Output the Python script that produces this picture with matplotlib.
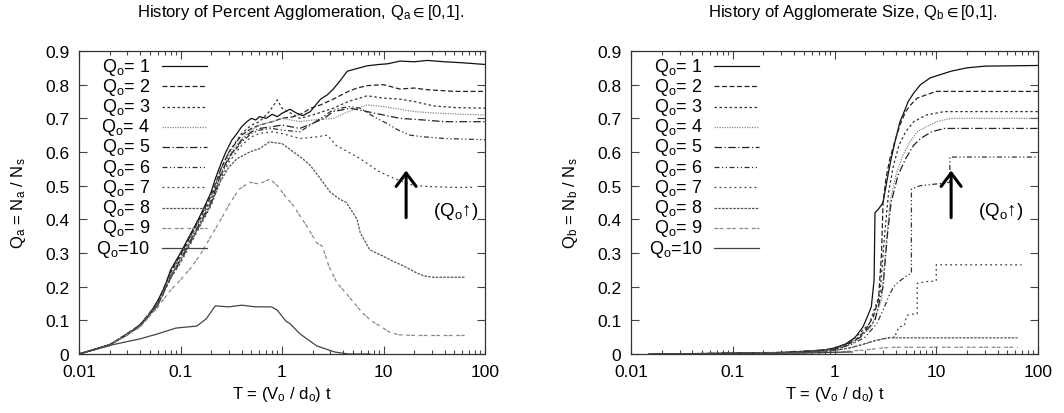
import numpy as np
import matplotlib.pyplot as plt
from matplotlib.ticker import FuncFormatter, MultipleLocator, LogLocator, NullFormatter

plt.rcParams['font.family'] = ['Liberation Sans', 'DejaVu Sans']
plt.rcParams['mathtext.fontset'] = 'custom'
plt.rcParams['mathtext.rm'] = 'Liberation Sans'
plt.rcParams['mathtext.it'] = 'Liberation Sans'
plt.rcParams['mathtext.sf'] = 'Liberation Sans'
plt.rcParams['mathtext.fallback'] = 'stix'
plt.rcParams['mathtext.default'] = 'regular'

labels = ['Q$_o$= 1', 'Q$_o$= 2', 'Q$_o$= 3', 'Q$_o$= 4', 'Q$_o$= 5',
          'Q$_o$= 6', 'Q$_o$= 7', 'Q$_o$= 8', 'Q$_o$= 9', 'Q$_o$=10']
xticks = [0.01, 0.1, 1, 10, 100]

# ---- left panel: percent agglomeration Qa ----
a1_t = [0.01, 0.02, 0.03, 0.04, 0.05, 0.06, 0.07, 0.08, 0.1, 0.12, 0.15, 0.18, 0.2, 0.22, 0.25, 0.28,
        0.32, 0.36, 0.4, 0.45, 0.5, 0.55, 0.6, 0.7, 0.8, 0.9, 1.0, 1.2, 1.4, 1.6, 1.9, 2.4, 2.8, 3.2,
        3.7, 4.4, 5.5, 6.9, 9, 11, 14.5, 20, 27, 40, 60, 100]
a1_q = [0, 0.028, 0.057, 0.088, 0.12, 0.16, 0.2, 0.25, 0.3, 0.345, 0.4, 0.45, 0.48, 0.52, 0.565, 0.60,
        0.635, 0.655, 0.675, 0.69, 0.70, 0.695, 0.705, 0.70, 0.712, 0.705, 0.715, 0.727, 0.715, 0.708, 0.72,
        0.757, 0.77, 0.787, 0.81, 0.84, 0.848, 0.856, 0.86, 0.862, 0.87, 0.868, 0.872, 0.868, 0.865, 0.86]

a2_t = [0.01, 0.02, 0.04, 0.06, 0.08, 0.1, 0.15, 0.2, 0.25, 0.3, 0.4, 0.5, 0.6, 0.8, 1.0, 1.3, 1.6,
        1.9, 2.4, 3.2, 4.5, 5.5, 6.9, 10, 14.5, 20, 27, 50, 100]
a2_q = [0, 0.027, 0.086, 0.155, 0.245, 0.295, 0.395, 0.47, 0.55, 0.6, 0.65, 0.67, 0.68, 0.69, 0.70,
        0.705, 0.715, 0.73, 0.74, 0.757, 0.78, 0.79, 0.797, 0.80, 0.787, 0.79, 0.785, 0.78, 0.78]

a3_t = [0.01, 0.02, 0.04, 0.06, 0.08, 0.1, 0.15, 0.2, 0.25, 0.3, 0.4, 0.5, 0.6, 0.75, 0.9, 1.0, 1.15,
        1.5, 2.0, 3.2, 4.5, 6.9, 10, 14.5, 20, 31, 50, 100]
a3_q = [0, 0.027, 0.085, 0.15, 0.24, 0.29, 0.39, 0.46, 0.55, 0.6, 0.655, 0.68, 0.69, 0.72, 0.755, 0.73,
        0.72, 0.70, 0.71, 0.73, 0.75, 0.767, 0.76, 0.757, 0.75, 0.737, 0.732, 0.73]

a4_t = [0.01, 0.02, 0.04, 0.06, 0.08, 0.1, 0.15, 0.2, 0.25, 0.3, 0.4, 0.5, 0.6, 0.8, 1.0, 1.5, 2.0,
        3.2, 4.5, 6.9, 10, 14.5, 20, 31, 60, 100]
a4_q = [0, 0.026, 0.084, 0.15, 0.235, 0.285, 0.385, 0.455, 0.54, 0.59, 0.64, 0.665, 0.68, 0.69, 0.70,
        0.69, 0.695, 0.70, 0.72, 0.74, 0.735, 0.727, 0.72, 0.716, 0.712, 0.71]

a5_t = [0.01, 0.02, 0.04, 0.06, 0.08, 0.1, 0.15, 0.2, 0.25, 0.3, 0.4, 0.5, 0.6, 0.8, 1.0, 1.5, 2.0,
        2.6, 3.2, 4.7, 6.9, 10, 14.5, 25, 40, 100]
a5_q = [0, 0.026, 0.083, 0.148, 0.23, 0.28, 0.38, 0.45, 0.535, 0.585, 0.635, 0.66, 0.67, 0.675, 0.68,
        0.67, 0.685, 0.70, 0.72, 0.73, 0.72, 0.71, 0.70, 0.695, 0.69, 0.69]

a6_t = [0.01, 0.02, 0.04, 0.06, 0.08, 0.1, 0.15, 0.2, 0.25, 0.3, 0.4, 0.5, 0.6, 0.8, 1.0, 1.5, 1.9,
        2.4, 3.0, 3.7, 4.7, 5.9, 8, 10.8, 14, 18.3, 25, 40, 90, 100]
a6_q = [0, 0.026, 0.082, 0.145, 0.225, 0.275, 0.375, 0.445, 0.53, 0.58, 0.63, 0.655, 0.665, 0.67, 0.665,
        0.66, 0.68, 0.70, 0.72, 0.73, 0.735, 0.73, 0.705, 0.685, 0.665, 0.65, 0.645, 0.64, 0.637, 0.636]

a7_t = [0.01, 0.02, 0.04, 0.06, 0.08, 0.1, 0.15, 0.2, 0.25, 0.3, 0.4, 0.5, 0.6, 0.8, 1.0, 1.5, 2.2,
        2.8, 3.4, 4.5, 5.9, 7.0, 8.7, 11, 14.5, 20, 30, 50, 75]
a7_q = [0, 0.026, 0.082, 0.145, 0.225, 0.27, 0.37, 0.44, 0.52, 0.57, 0.62, 0.645, 0.655, 0.66, 0.655,
        0.64, 0.645, 0.65, 0.62, 0.60, 0.58, 0.565, 0.545, 0.53, 0.515, 0.50, 0.497, 0.495, 0.495]

a8_t = [0.01, 0.02, 0.04, 0.06, 0.08, 0.1, 0.15, 0.2, 0.25, 0.3, 0.36, 0.48, 0.6, 0.75, 1.0, 1.3, 1.6,
        1.9, 2.4, 3.0, 3.7, 4.3, 5.5, 5.9, 7.3, 8.5, 10, 12.5, 15.6, 21.5, 25, 31, 45, 63]
a8_q = [0, 0.027, 0.085, 0.15, 0.23, 0.28, 0.375, 0.445, 0.515, 0.555, 0.58, 0.60, 0.61, 0.63, 0.625,
        0.60, 0.58, 0.56, 0.52, 0.48, 0.46, 0.45, 0.40, 0.36, 0.31, 0.30, 0.29, 0.275, 0.262, 0.24, 0.232,
        0.228, 0.228, 0.228]

a9_t = [0.01, 0.02, 0.04, 0.06, 0.08, 0.1, 0.13, 0.16, 0.2, 0.25, 0.31, 0.38, 0.48, 0.6, 0.76, 0.9,
        1.1, 1.3, 1.75, 2.2, 2.5, 2.9, 3.5, 4.3, 5.2, 6.3, 7.5, 9.2, 11.5, 14, 20, 63]
a9_q = [0, 0.025, 0.08, 0.14, 0.19, 0.22, 0.26, 0.30, 0.35, 0.40, 0.45, 0.49, 0.51, 0.505, 0.52, 0.50,
        0.465, 0.44, 0.38, 0.33, 0.32, 0.26, 0.21, 0.18, 0.15, 0.12, 0.10, 0.083, 0.065, 0.057, 0.055, 0.055]

a10_t = [0.01, 0.021, 0.04, 0.06, 0.09, 0.145, 0.18, 0.22, 0.3, 0.4, 0.55, 0.79, 0.9, 1.09, 1.2,
         1.5, 2.2, 3.3, 4.5, 7.4]
a10_q = [0, 0.027, 0.045, 0.06, 0.077, 0.083, 0.105, 0.143, 0.14, 0.145, 0.14, 0.14, 0.13, 0.098, 0.09,
         0.06, 0.024, 0.006, 0.0, 0.0]

# ---- right panel: agglomerate size Qb ----
b1_t = [0.015, 0.1, 0.3, 0.5, 0.8, 1.0, 1.3, 1.6, 1.9, 2.1, 2.3, 2.45, 2.5, 2.7, 3.0, 3.3, 3.6, 4.0,
        4.4, 4.7, 5.3, 6.0, 7.0, 8.7, 11, 14, 20, 30, 100]
b1_q = [0, 0.002, 0.004, 0.008, 0.012, 0.018, 0.03, 0.05, 0.08, 0.11, 0.14, 0.22, 0.42, 0.43, 0.45,
        0.52, 0.58, 0.64, 0.69, 0.71, 0.75, 0.775, 0.80, 0.82, 0.83, 0.84, 0.85, 0.855, 0.857]

b2_t = [0.02, 0.3, 0.8, 1.2, 1.6, 2.0, 2.4, 2.7, 2.9, 3.0, 3.2, 3.5, 3.9, 4.4, 5.0, 5.6, 6.5, 8, 10, 100]
b2_q = [0, 0.004, 0.012, 0.02, 0.04, 0.07, 0.11, 0.16, 0.30, 0.45, 0.52, 0.58, 0.63, 0.68, 0.72, 0.74,
        0.76, 0.77, 0.78, 0.78]

b3_t = [0.02, 0.4, 1.0, 1.5, 2.2, 2.8, 3.1, 3.4, 3.8, 4.3, 5.0, 6.0, 8, 12, 100]
b3_q = [0, 0.005, 0.015, 0.04, 0.09, 0.18, 0.35, 0.48, 0.56, 0.62, 0.66, 0.69, 0.71, 0.72, 0.72]

b4_t = [0.02, 0.4, 1.0, 1.5, 2.3, 2.9, 3.2, 3.5, 4.0, 4.7, 5.5, 6.5, 8, 10, 14, 100]
b4_q = [0, 0.005, 0.014, 0.03, 0.08, 0.16, 0.32, 0.45, 0.53, 0.59, 0.63, 0.66, 0.675, 0.69, 0.70, 0.70]

b5_t = [0.03, 0.5, 1.0, 1.8, 2.5, 3.0, 3.3, 3.6, 4.2, 5.0, 6.0, 7.0, 9, 12, 100]
b5_q = [0, 0.006, 0.013, 0.05, 0.10, 0.20, 0.35, 0.45, 0.53, 0.58, 0.62, 0.64, 0.66, 0.67, 0.67]

b6_t = [0.03, 0.5, 1.0, 1.5, 2.0, 2.6, 3.0, 3.4, 3.8, 4.3, 5.0, 5.7, 5.7, 7.0, 10, 13.6, 13.6, 100]
b6_q = [0, 0.005, 0.012, 0.03, 0.05, 0.09, 0.13, 0.17, 0.20, 0.215, 0.23, 0.24, 0.49, 0.50, 0.505,
        0.51, 0.585, 0.585]

b7_t = [0.03, 0.5, 1.0, 1.5, 2.2, 3.0, 3.6, 4.0, 4.0, 4.3, 4.9, 4.9, 5.2, 6.2, 6.5, 6.5, 8, 10, 10, 69]
b7_q = [0, 0.004, 0.01, 0.02, 0.035, 0.045, 0.05, 0.05, 0.06, 0.08, 0.085, 0.095, 0.115, 0.12, 0.12,
        0.21, 0.215, 0.217, 0.265, 0.265]

b8_t = [0.03, 0.5, 1.0, 1.5, 2.0, 2.5, 3.0, 3.5, 63]
b8_q = [0, 0.004, 0.01, 0.02, 0.03, 0.04, 0.045, 0.048, 0.048]

b9_t = [0.03, 0.5, 1.0, 2.0, 3.0, 4.0, 63]
b9_q = [0, 0.003, 0.005, 0.012, 0.018, 0.02, 0.02]

b10_t = [0.015, 0.5, 1.0, 1.5]
b10_q = [0, 0.003, 0.005, 0.006]

left_series = [(a1_t, a1_q), (a2_t, a2_q), (a3_t, a3_q), (a4_t, a4_q), (a5_t, a5_q),
               (a6_t, a6_q), (a7_t, a7_q), (a8_t, a8_q), (a9_t, a9_q), (a10_t, a10_q)]
right_series = [(b1_t, b1_q), (b2_t, b2_q), (b3_t, b3_q), (b4_t, b4_q), (b5_t, b5_q),
                (b6_t, b6_q), (b7_t, b7_q), (b8_t, b8_q), (b9_t, b9_q), (b10_t, b10_q)]

styles = ['-', (0, (4, 2)), (0, (2, 2)), (0, (1, 1)), (0, (6, 2, 1, 2)),
          (0, (4, 2, 1, 2, 1, 2)), (0, (1.5, 2.5)), (0, (2, 1)), (0, (3, 1, 3, 3)), '-']
colors = ['#111111', '#222222', '#333333', '#888888', '#222222',
          '#333333', '#444444', '#555555', '#888888', '#444444']

fig = plt.figure(figsize=(10.64, 4.14), dpi=100)
ax_l = fig.add_axes([79 / 1064, 59 / 414, 406 / 1064, 303 / 414])
ax_r = fig.add_axes([631 / 1064, 59 / 414, 407 / 1064, 303 / 414])


def setup(ax, title, ylabel, arrow_t, text_t):
    ax.set_xscale('log')
    ax.set_xlim(0.01, 100)
    ax.set_ylim(0, 0.9)
    ax.set_xticks(xticks)
    ax.xaxis.set_major_formatter(FuncFormatter(lambda v, p: '%g' % v))
    ax.xaxis.set_minor_locator(LogLocator(base=10, subs=np.arange(2, 10)))
    ax.xaxis.set_minor_formatter(NullFormatter())
    ax.yaxis.set_major_locator(MultipleLocator(0.1))
    ax.yaxis.set_major_formatter(FuncFormatter(lambda v, p: '%g' % round(v, 1)))
    ax.tick_params(which='both', direction='in', top=True, right=True, labelsize=12.5,
                   color='#444444', width=0.8)
    ax.tick_params(which='major', length=6, pad=7)
    ax.tick_params(which='minor', length=3)
    for sp in ax.spines.values():
        sp.set_linewidth(0.9)
        sp.set_color('#333333')
    ax.text(0.545, 1.132, title, transform=ax.transAxes, ha='center', va='center', fontsize=12)
    ax.set_ylabel(ylabel, fontsize=12)
    ax.set_xlabel('T = (V$_o$ / d$_o$) t', fontsize=12)
    ax.annotate('', xy=(arrow_t, 0.545), xytext=(arrow_t, 0.405),
                arrowprops=dict(arrowstyle='->,head_width=0.3,head_length=0.4', lw=2.2,
                                color='black', mutation_scale=24, shrinkA=0, shrinkB=0))
    ax.text(text_t, 0.425, '(Q$_o$\u2191)', fontsize=13.5, ha='left', va='center')
    # legend, gnuplot style
    for i in range(10):
        y = 0.950 - i * 0.0667
        ax.text(0.175, y, labels[i], transform=ax.transAxes, ha='right', va='center', fontsize=13)
        ax.plot([0.204, 0.315], [y, y], transform=ax.transAxes, ls=styles[i],
                color=colors[i], lw=0.9)


for ax, series in [(ax_l, left_series), (ax_r, right_series)]:
    for i, (t, q) in enumerate(series):
        ax.plot(t, q, ls=styles[i], color=colors[i], lw=0.9)

setup(ax_l, 'History of Percent Agglomeration, Q$_a\\in$[0,1].', 'Q$_a$ = N$_a$ / N$_s$', 16.7, 30.7)
setup(ax_r, 'History of Agglomerate Size, Q$_b\\in$[0,1].', 'Q$_b$ = N$_b$ / N$_s$', 14.0, 25.7)
ax_l.yaxis.set_label_coords(-0.125, 0.5)
ax_r.yaxis.set_label_coords(-0.125, 0.5)

fig.savefig('out.png', dpi=100)
